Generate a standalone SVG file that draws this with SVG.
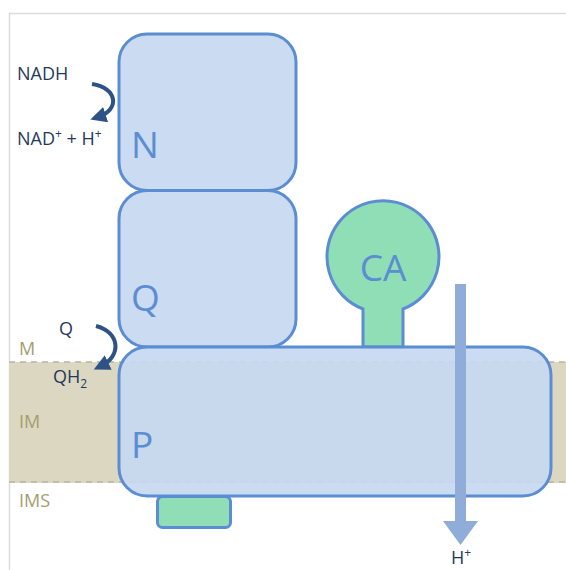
<svg xmlns="http://www.w3.org/2000/svg" width="566" height="570" viewBox="0 0 566 570">
<style>
.box{fill:#c5d8f1;fill-opacity:0.92;stroke:#5b8dd3;stroke-width:3}
.green{fill:#8fdeb6;stroke:#5b8dd3;stroke-width:3}
.big{font-family:"Open Sans","Liberation Sans",sans-serif;font-size:37px;fill:#5b8dd3}
.lbl{font-family:"Open Sans","Liberation Sans",sans-serif;font-size:18px;fill:#1f3b5c}
.zone{font-family:"Open Sans","Liberation Sans",sans-serif;font-size:18px;fill:#a49e6c}
.dash{stroke:#b8b4a4;stroke-width:1.5;stroke-dasharray:6 5;fill:none}
.curve{fill:none;stroke:#2d5386;stroke-width:4}
</style>
<defs>
<marker id="ah" markerWidth="4" markerHeight="4" refX="2" refY="2" orient="auto" markerUnits="strokeWidth">
<path d="M0,0 L4,2 L0,4 z" fill="#2d5386"/>
</marker>
</defs>
<rect x="0" y="0" width="566" height="570" fill="#ffffff"/>
<path d="M9.5,570 V13.5 H566" fill="none" stroke="#dcdcdc" stroke-width="1.5"/>
<g id="membrane">
<rect x="9" y="362" width="557" height="121" fill="#dcd7c1"/>
<line class="dash" x1="9" y1="362" x2="566" y2="362"/>
<line class="dash" x1="9" y1="482" x2="566" y2="482"/>
</g>
<g id="node-N">
<rect class="box" x="119" y="34" width="177" height="156.5" rx="28"/>
<text class="big" x="131" y="158">N</text>
</g>
<g id="node-Q">
<rect class="box" x="119" y="190.5" width="177" height="156.5" rx="28"/>
<text class="big" x="131" y="311">Q</text>
</g>
<g id="node-CA">
<path class="green" d="M363,347 V309 A56,56 0 1 1 403,309 V347 Z"/>
<text class="big" x="383" y="281" text-anchor="middle">CA</text>
</g>
<g id="node-P">
<rect class="box" x="119" y="347" width="432" height="149" rx="28"/>
<text class="big" x="131" y="458">P</text>
</g>
<g id="node-green-small">
<rect class="green" x="157.5" y="496.5" width="73" height="31" rx="5"/>
</g>
<g id="zones">
<text class="zone" x="19" y="355">M</text>
<text class="zone" x="19" y="428">IM</text>
<text class="zone" x="19" y="507">IMS</text>
</g>
<g id="connectors">
<path class="curve" d="M92,84 C118,88 120,110 98,117" marker-end="url(#ah)"/>
<path class="curve" d="M96,326 C120,332 122,356 101,366" marker-end="url(#ah)"/>
<path d="M455,284 H466 V521 H478 L460.5,545 L443,521 H455 Z" fill="#8fadd8"/>
</g>
<g id="labels">
<text class="lbl" x="17" y="80">NADH</text>
<text class="lbl" x="17" y="145">NAD<tspan font-size="12" dy="-7">+</tspan><tspan dy="7"> + H</tspan><tspan font-size="12" dy="-7">+</tspan></text>
<text class="lbl" x="59" y="335">Q</text>
<text class="lbl" x="53" y="383">QH<tspan font-size="12" dy="5">2</tspan></text>
<text class="lbl" x="451" y="564">H<tspan font-size="12" dy="-7">+</tspan></text>
</g>
</svg>
